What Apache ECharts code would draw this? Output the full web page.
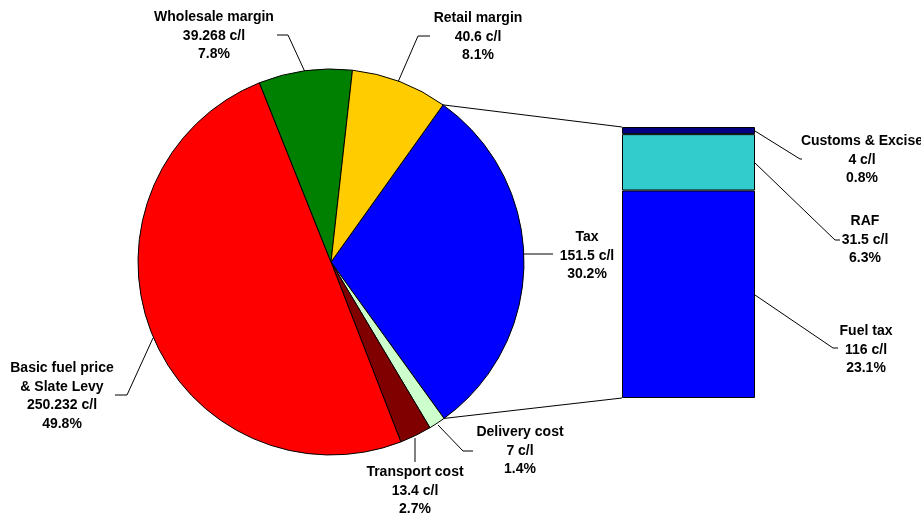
<!DOCTYPE html>
<html><head><meta charset="utf-8">
<script src="https://cdn.jsdelivr.net/npm/echarts@6/dist/echarts.min.js"></script>
<style>html,body{margin:0;padding:0;background:#fff}#c{width:921px;height:516px}</style>
</head><body><div id="c"></div>
<script>
const pieNames = ['Tax', 'Delivery cost', 'Transport cost', 'Basic fuel price\n& Slate Levy', 'Wholesale margin', 'Retail margin'];
const pieValues = [151.5, 7, 13.4, 250.232, 39.268, 40.6];
const pieColors = ['#0000FF', '#CCFFCC', '#800000', '#FF0000', '#008000', '#FFCC00'];
const barNames = ['Fuel tax', 'RAF', 'Customs & Excise'];
const barValues = [116, 31.5, 4];
const barColors = ['#0000FF', '#33CCCC', '#000080'];

(function () {
const total = pieValues.reduce((a, b) => a + b, 0);
const taxTotal = barValues.reduce((a, b) => a + b, 0);

const CX = 331, CY = 262, R = 193;
const startAngle = 54.5;

// label layout (positions only)
const pieLabelPos = [
  {x: 587, y: 256, line: [[524, 254], [553, 254]]},
  {x: 520, y: 451, line: [[438, 425], [463, 451], [473, 451]]},
  {x: 415, y: 491, line: [[415, 438], [415, 462]]},
  {x: 62, y: 396, line: [[153, 338], [127, 395], [115, 395]]},
  {x: 214, y: 36, line: [[305, 72], [288, 35], [277, 35]]},
  {x: 478, y: 37, line: [[398, 82], [418, 36], [430, 36]]}
];
const barLabelPos = [
  {x: 866, y: 350, line: [[755, 295], [833, 348], [838, 348]]},
  {x: 865, y: 240, line: [[755, 163], [835, 240], [840, 240]]},
  {x: 862, y: 160, line: [[755, 131], [800, 159], [802, 159]]}
];

const textStyle = {fontFamily: 'Liberation Sans, Arial, sans-serif', fontWeight: 'bold', fontSize: 14, color: '#000', lineHeight: 18.5, align: 'center', overflow: 'none'};

const chart = echarts.init(document.getElementById('c'), null, {renderer: 'canvas'});
const option = {
  backgroundColor: '#fff',
  animation: false,
  grid: {left: 622, top: 127, width: 133, height: 271},
  xAxis: {type: 'category', data: ['Tax'], show: false},
  yAxis: {type: 'value', min: 0, max: taxTotal, show: false},
  series: [
    {
      type: 'pie',
      center: [CX, CY],
      radius: R,
      startAngle: startAngle,
      clockwise: true,
      percentPrecision: 1,
      avoidLabelOverlap: false,
      data: pieNames.map((n, i) => ({name: n, value: pieValues[i],
        itemStyle: {color: pieColors[i], borderColor: '#000', borderWidth: 1}})),
      label: Object.assign({show: true, position: 'outside', alignTo: 'none', edgeDistance: 0, bleedMargin: 0,
        formatter: '{b}\n{c} c/l\n{d}%'}, textStyle),
      labelLine: {show: true, length: 10, length2: 10, lineStyle: {color: '#000', width: 1}},
      labelLayout: function (p) {
        const L = pieLabelPos[p.dataIndex];
        return {x: L.x, y: L.y, align: 'center', verticalAlign: 'middle', labelLinePoints: L.line};
      },
      emphasis: {disabled: true}
    }
  ].concat(barNames.map((n, i) => ({
    type: 'bar',
    name: n,
    stack: 'tax',
    barWidth: '100%',
    data: [barValues[i]],
    itemStyle: {color: barColors[i], borderColor: '#000', borderWidth: 1},
    label: Object.assign({show: true, position: 'right',
      formatter: () => n + '\n' + barValues[i] + ' c/l\n' + (barValues[i] / total * 100).toFixed(1) + '%'}, textStyle),
    labelLayout: function () {
      const L = barLabelPos[i];
      return {x: L.x, y: L.y, align: 'center', verticalAlign: 'middle'};
    },
    emphasis: {disabled: true}
  })))
};
chart.setOption(option);

// connector lines from the tax slice edges to the bar corners
const toRad = d => d * Math.PI / 180;
const a0 = startAngle;
const a1 = startAngle - pieValues[0] / total * 360;
const p0 = [CX + R * Math.cos(toRad(a0)), CY - R * Math.sin(toRad(a0))];
const p1 = [CX + R * Math.cos(toRad(a1)), CY - R * Math.sin(toRad(a1))];
const barTop = chart.convertToPixel({gridIndex: 0}, ['Tax', taxTotal]);
const barBot = chart.convertToPixel({gridIndex: 0}, ['Tax', 0]);
const rect = chart.getModel().getComponent('grid').coordinateSystem.getRect();
const graphics = [
  {type: 'line', shape: {x1: p0[0], y1: p0[1], x2: rect.x, y2: barTop[1]}, style: {stroke: '#000', lineWidth: 1}, z: 0},
  {type: 'line', shape: {x1: p1[0], y1: p1[1], x2: rect.x, y2: barBot[1]}, style: {stroke: '#000', lineWidth: 1}, z: 0}
];
barLabelPos.forEach(L => graphics.push({type: 'polyline', shape: {points: L.line}, style: {stroke: '#000', lineWidth: 1, fill: null}, z: 10}));
chart.setOption({graphic: graphics});
})();
</script>
</body></html>
